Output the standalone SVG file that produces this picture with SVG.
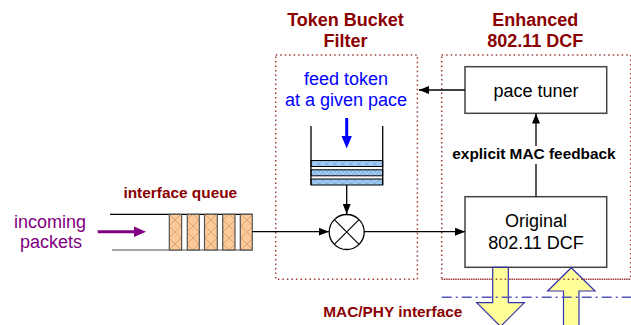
<svg xmlns="http://www.w3.org/2000/svg" width="631" height="325" viewBox="0 0 631 325">
<defs>
<style>
.t{font-family:"Liberation Sans",Arial,sans-serif;text-anchor:middle}
.title{font-size:18px;font-weight:bold;fill:#8b0000}
.lbl{font-size:15.4px;font-weight:bold}
.reg{font-size:18px}
.dot{fill:none;stroke:#a03a3a;stroke-width:1.5;stroke-dasharray:1.5 3}
.box{fill:#fff;stroke:#444;stroke-width:1.5}
.ln{stroke:#000;stroke-width:1.3;fill:none}
.pkt{fill:url(#hatchO);stroke:#555;stroke-width:1.2}
.strip{fill:url(#hatchB);stroke:#000;stroke-width:1}
.yarr{fill:#ffff99;stroke:#3333aa;stroke-width:1.2}
</style>
<pattern id="hatchO" patternUnits="userSpaceOnUse" width="12" height="12" x="169" y="214">
<rect width="12" height="12" fill="#fdc997"/>
<path d="M0 0L12 12M12 0L0 12" stroke="#b08060" stroke-width="0.5"/>
</pattern>
<pattern id="hatchB" patternUnits="userSpaceOnUse" width="16" height="12" x="311" y="160">
<rect width="16" height="12" fill="#9dcbf5"/>
<path d="M0 12L16 -4M0 -4L16 12M0 4L8 -4M8 12L16 4M0 4L8 12M8 -4L16 4" stroke="#6f8fb0" stroke-width="0.5"/>
</pattern>
<marker id="ah" viewBox="0 0 10 8" refX="10" refY="4" markerWidth="10" markerHeight="8" markerUnits="userSpaceOnUse" orient="auto">
<path d="M0 0L10 4L0 8z" fill="#000"/>
</marker>
</defs>

<g id="tbf-frame">
<rect class="dot" x="275.7" y="55" width="141.7" height="224.3"/>
<text class="t title" x="345.5" y="26">Token Bucket</text>
<text class="t title" x="345.5" y="47">Filter</text>
</g>

<g id="dcf-frame">
<rect class="dot" x="441.7" y="55" width="189" height="224.3"/>
<text class="t title" x="535.3" y="26">Enhanced</text>
<text class="t title" x="535.3" y="47">802.11 DCF</text>
</g>

<g id="incoming">
<text class="t reg" x="50" y="228" fill="#800080">incoming</text>
<text class="t reg" x="51" y="248" fill="#800080">packets</text>
<line x1="97.7" y1="231.7" x2="136" y2="231.7" stroke="#800080" stroke-width="3"/>
<path d="M134 226.5L146 231.7L134 236.9z" fill="#800080"/>
</g>

<g id="interface-queue">
<text class="t lbl" x="180.3" y="198.3" fill="#8b0000">interface queue</text>
<line x1="110" y1="214.3" x2="252.3" y2="214.3" stroke="#000" stroke-width="1.3"/>
<line x1="112" y1="250" x2="252.3" y2="250" stroke="#888" stroke-width="1.5"/>
<rect class="pkt" x="169.3" y="214.3" width="12.3" height="35.7"/>
<rect class="pkt" x="187.3" y="214.3" width="12" height="35.7"/>
<rect class="pkt" x="204.5" y="214.3" width="12.8" height="35.7"/>
<rect class="pkt" x="222.7" y="214.3" width="12.3" height="35.7"/>
<rect class="pkt" x="240.3" y="214.3" width="12" height="35.7"/>
</g>

<g id="token-bucket">
<text class="t reg" x="346" y="85" fill="#0000ff">feed token</text>
<text class="t reg" x="346" y="106" fill="#0000ff">at a given pace</text>
<line x1="346.7" y1="118" x2="346.7" y2="138" stroke="#0000ff" stroke-width="3"/>
<path d="M341.5 136L351.9 136L346.7 148.5z" fill="#0000ff"/>
<rect class="strip" x="311" y="160.5" width="71.7" height="6"/>
<rect class="strip" x="311" y="169.8" width="71.7" height="6"/>
<rect class="strip" x="311" y="179" width="71.7" height="6"/>
<line class="ln" x1="311" y1="126" x2="311" y2="185"/>
<line class="ln" x1="382.7" y1="126" x2="382.7" y2="185"/>
</g>

<g id="multiplier">
<circle cx="346.7" cy="232" r="17.5" fill="#fff" stroke="#000" stroke-width="1.3"/>
<path d="M334.3 219.6L359.1 244.4M359.1 219.6L334.3 244.4" stroke="#000" stroke-width="1.1"/>
</g>

<g id="pace-tuner">
<rect class="box" x="465" y="66.7" width="141.7" height="46.6"/>
<text class="t reg" x="536" y="96.7" fill="#000">pace tuner</text>
</g>

<g id="original-dcf">
<rect class="box" x="465" y="196.7" width="141.7" height="70.6"/>
<text class="t reg" x="536" y="226.7" fill="#000">Original</text>
<text class="t reg" x="536" y="249.3" fill="#000">802.11 DCF</text>
</g>

<g id="phy-arrows">
<path class="yarr" d="M492.7 267.3L508.3 267.3L508.3 302.7L524.3 302.7L500.5 326.5L476.7 302.7L492.7 302.7z"/>
<path class="yarr" d="M571.3 267.7L595 291L579 291L579 330L563.5 330L563.5 291L547.7 291z"/>
</g>

<g id="mac-phy">
<line x1="441.7" y1="297.3" x2="631" y2="297.3" stroke="#5555bb" stroke-width="1.5" stroke-dasharray="10 4 2 4"/>
<text class="t lbl" x="392.8" y="316.7" fill="#8b0000">MAC/PHY interface</text>
</g>
<line class="dot" x1="441.7" y1="279.3" x2="631" y2="279.3"/>

<g id="connectors">
<line class="ln" x1="252.3" y1="231.7" x2="328.8" y2="231.7" marker-end="url(#ah)"/>
<line class="ln" x1="346.7" y1="185" x2="346.7" y2="214" marker-end="url(#ah)"/>
<line class="ln" x1="364.2" y1="231.7" x2="465" y2="231.7" marker-end="url(#ah)"/>
<line class="ln" x1="465" y1="90" x2="419" y2="90" marker-end="url(#ah)"/>
<line class="ln" x1="536" y1="196.7" x2="536" y2="113.5" marker-end="url(#ah)"/>
<rect x="450" y="146" width="168" height="18" fill="#fff"/>
<text class="t lbl" x="534" y="159.3" fill="#000">explicit MAC feedback</text>
</g>
</svg>
